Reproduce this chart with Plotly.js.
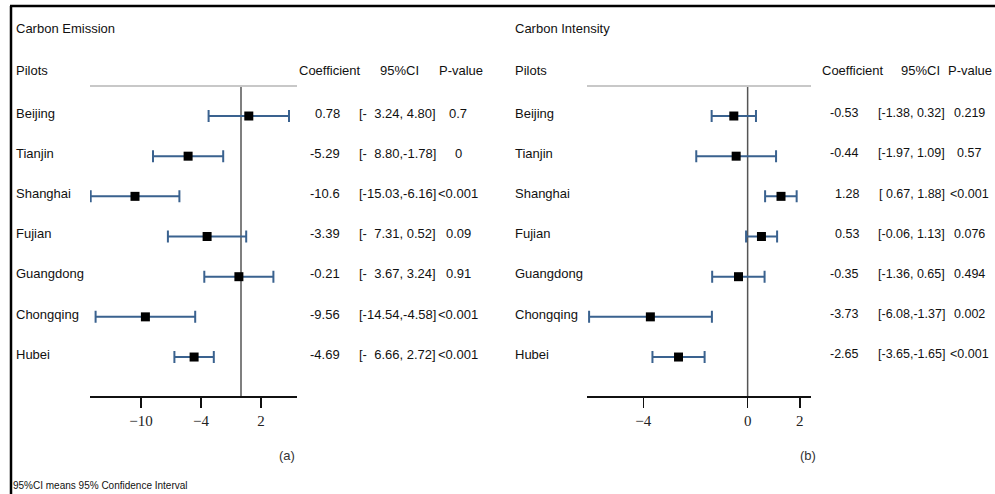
<!DOCTYPE html>
<html>
<head>
<meta charset="utf-8">
<script src="https://cdn.plot.ly/plotly-3.0.1.min.js"></script>
<style>
html,body{margin:0;padding:0;background:#fff;}
#chart{width:995px;height:494px;}
</style>
</head>
<body>
<div id="chart"></div>
<script>
// ---- Data ----
const pilots = ['Beijing','Tianjin','Shanghai','Fujian','Guangdong','Chongqing','Hubei'];

const emissionCoef = [0.78, -5.29, -10.6, -3.39, -0.21, -9.56, -4.69];
const emissionLow  = [-3.24, -8.80, -15.03, -7.31, -3.67, -14.54, -6.66];
const emissionHigh = [4.80, -1.78, -6.16, 0.52, 3.24, -4.58, -2.72];
const emissionCoefText = ['0.78','-5.29','-10.6','-3.39','-0.21','-9.56','-4.69'];
const emissionCIText = ['[-\u00a0\u00a03.24,\u00a04.80]','[-\u00a0\u00a08.80,-1.78]','[-15.03,-6.16]','[-\u00a0\u00a07.31,\u00a00.52]','[-\u00a0\u00a03.67,\u00a03.24]','[-14.54,-4.58]','[-\u00a0\u00a06.66,\u00a02.72]'];
const emissionPText = ['0.7','0','<0.001','0.09','0.91','<0.001','<0.001'];
const emissionTicks = [-10, -4, 2];

const intensityCoef = [-0.53, -0.44, 1.28, 0.53, -0.35, -3.73, -2.65];
const intensityLow  = [-1.38, -1.97, 0.67, -0.06, -1.36, -6.08, -3.65];
const intensityHigh = [0.32, 1.09, 1.88, 1.13, 0.65, -1.37, -1.65];
const intensityCoefText = ['-0.53','-0.44','1.28','0.53','-0.35','-3.73','-2.65'];
const intensityCIText = ['[-1.38,\u00a00.32]','[-1.97,\u00a01.09]','[\u00a00.67,\u00a01.88]','[-0.06,\u00a01.13]','[-1.36,\u00a00.65]','[-6.08,-1.37]','[-3.65,-1.65]'];
const intensityPText = ['0.219','0.57','<0.001','0.076','0.494','0.002','<0.001'];
const intensityTicks = [-4, 0, 2];

const headers = ['Coefficient','95%CI','P-value'];

// ---- Layout helpers (pixel -> paper) ----
const W = 995, H = 494;
const px = v => v / W;
const py = v => 1 - v / H;
const rowIdx = pilots.map((_, i) => i);
const yTop = 86, yBot = 396;
const yRange = [6.97, -0.747];

const sans = 'Liberation Sans, Arial, sans-serif';
const serif = 'Liberation Serif, Times New Roman, serif';
const ebColor = '#3a628f';

function forestTrace(coef, low, high, xa, ya) {
  return {
    type: 'scatter', mode: 'markers',
    x: coef, y: rowIdx, xaxis: xa, yaxis: ya,
    marker: {symbol: 'square', size: 9, color: '#000'},
    error_x: {
      type: 'data', symmetric: false,
      array: high.map((h, i) => h - coef[i]),
      arrayminus: low.map((l, i) => coef[i] - l),
      color: ebColor, thickness: 2, width: 6
    },
    hoverinfo: 'skip', cliponaxis: false, showlegend: false
  };
}

const data = [
  forestTrace(emissionCoef, emissionLow, emissionHigh, 'x', 'y'),
  forestTrace(intensityCoef, intensityLow, intensityHigh, 'x2', 'y2')
];

const ann = [];
function txt(text, x, y, xanchor, opts) {
  ann.push(Object.assign({
    text: text, x: x, y: y, xref: 'paper', yref: 'paper',
    xanchor: xanchor, yanchor: 'middle', showarrow: false,
    font: {family: sans, size: 13, color: '#111'}
  }, opts || {}));
}

function panel(left, title, coefX, ciX, ciAnchor, pX, pAnchor, hdrX, hdrAnchor, coefText, ciText, pText, label, labelX, rowSize) {
  txt(title, px(left), py(29), 'left');
  txt('Pilots', px(left), py(70), 'left');
  headers.forEach((h, i) => txt(h, px(hdrX[i]), py(70), hdrAnchor[i]));
  pilots.forEach((p, i) => {
    const o = {yref: 'y'};
    const f = {yref: 'y', font: {family: sans, size: rowSize, color: '#111'}};
    txt(p, px(left), i - 0.07, 'left', o);
    txt(coefText[i], px(coefX), i - 0.07, 'right', f);
    txt(ciText[i], px(ciX), i - 0.07, ciAnchor, f);
    txt(pText[i], px(pX), i - 0.07, pAnchor, f);
  });
  txt(label, px(labelX), py(455), 'center', {font: {family: sans, size: 13, color: '#333'}});
}

panel(14, 'Carbon Emission', 342, 357, 'left', 458, 'center', [297, 378, 437], ['left', 'left', 'left'],
      emissionCoefText, emissionCIText, emissionPText, '(a)', 287, 13);
panel(513, 'Carbon Intensity', 861, 947, 'right', 969, 'center', [820, 899, 994], ['left', 'left', 'right'],
      intensityCoefText, intensityCIText, intensityPText, '(b)', 808, 12.5);

txt('95%CI means 95% Confidence Interval', px(11), py(485), 'left',
    {font: {family: sans, size: 10, color: '#111'}});

const shapes = [
  // frame
  {type: 'line', xref: 'paper', yref: 'paper', x0: px(10), x1: 1, y0: py(6), y1: py(6), line: {color: '#000', width: 2.5}},
  {type: 'line', xref: 'paper', yref: 'paper', x0: px(11), x1: px(11), y0: 0, y1: py(6), line: {color: '#000', width: 2.5}},
  // top gray lines
  {type: 'line', xref: 'paper', yref: 'paper', x0: px(90), x1: px(297), y0: py(yTop), y1: py(yTop), line: {color: '#c8c8c8', width: 2}},
  {type: 'line', xref: 'paper', yref: 'paper', x0: px(587), x1: px(811), y0: py(yTop), y1: py(yTop), line: {color: '#c8c8c8', width: 2}},
  // zero lines
  {type: 'line', xref: 'x', yref: 'paper', x0: 0, x1: 0, y0: py(yBot), y1: py(yTop), line: {color: '#555', width: 1.5}, layer: 'below'},
  {type: 'line', xref: 'x2', yref: 'paper', x0: 0, x1: 0, y0: py(yBot), y1: py(yTop), line: {color: '#555', width: 1.5}, layer: 'below'}
];

function xax(domain, range, ticks, anchor) {
  return {
    domain: domain, range: range, anchor: anchor,
    tickvals: ticks, ticks: 'outside', ticklen: 10, tickwidth: 1.5, tickcolor: '#111',
    showline: true, linecolor: '#111', linewidth: 1.5,
    showgrid: false, zeroline: false, fixedrange: true,
    tickfont: {family: serif, size: 15, color: '#222'}
  };
}
function yax(anchor) {
  return {
    domain: [py(yBot), py(yTop)], range: yRange, anchor: anchor,
    visible: false, showgrid: false, zeroline: false, fixedrange: true
  };
}

const layout = {
  width: W, height: H,
  margin: {l: 0, r: 0, t: 0, b: 0},
  paper_bgcolor: '#fff', plot_bgcolor: 'rgba(0,0,0,0)',
  showlegend: false,
  xaxis: xax([px(90), px(297)], [-15.1, 5.6], emissionTicks, 'y'),
  yaxis: yax('x'),
  xaxis2: xax([px(587), px(811)], [-6.16, 2.43], intensityTicks, 'y2'),
  yaxis2: yax('x2'),
  annotations: ann,
  shapes: shapes
};

Plotly.newPlot('chart', data, layout, {displayModeBar: false, staticPlot: true});
</script>
</body>
</html>
